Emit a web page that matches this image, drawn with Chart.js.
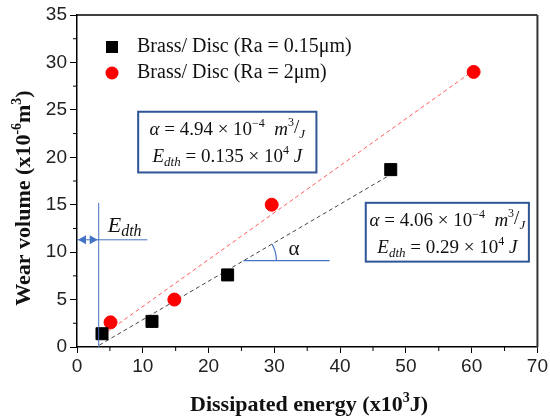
<!DOCTYPE html>
<html>
<head>
<meta charset="utf-8">
<script src="https://cdn.jsdelivr.net/npm/chart.js@4.4.1/dist/chart.umd.min.js"></script>
<style>
  html, body { margin: 0; padding: 0; background: #fff; }
  #wrap { width: 550px; height: 419px; }
</style>
</head>
<body>
<div id="wrap"><canvas id="chart"></canvas></div>
<script>
// measured points (x = dissipated energy x10^3 J, y = wear volume x10^-6 m^3)
const smoothEnergy = [3.8, 11.4, 22.9, 47.7];
const smoothWear = [1.4, 2.7, 7.6, 18.7];
const roughEnergy = [5.1, 14.8, 29.6, 60.3];
const roughWear = [2.6, 5.0, 15.0, 29.0];

// fitted lines, end points
const smoothFitX = [3.4, 47.5];
const smoothFitY = [0.2, 18.1];
const roughFitX = [4.6, 60.0];
const roughFitY = [1.6, 29.0];

const seriesLabels = ["Brass/ Disc (Ra = 0.15\u03bcm)", "Brass/ Disc (Ra = 2\u03bcm)"];
const xTicks = [0, 10, 20, 30, 40, 50, 60, 70];
const yTicks = [0, 5, 10, 15, 20, 25, 30, 35];

// annotation anchors in data units
const edthLineX = 3.3, edthLineTop = 15.2, edthArrowY = 11.3, edthLabelEnd = 10.7;
const alphaStart = [25.3, 9.1], alphaEnd = 38.4;

const toPts = (xs, ys) => xs.map((x, i) => ({x: x, y: ys[i]}));

const blue = '#4472c4';
const boxBlue = '#2f5597';

function richText(ctx, x, y, segs, align) {
  let total = 0;
  segs.forEach(s => { ctx.font = s.f; total += ctx.measureText(s.t).width; });
  let cx = align === 'center' ? x - total / 2 : x;
  ctx.textAlign = 'left';
  ctx.textBaseline = 'alphabetic';
  segs.forEach(s => {
    ctx.font = s.f;
    ctx.fillText(s.t, cx, y + (s.dy || 0));
    cx += ctx.measureText(s.t).width;
  });
}

const R = '19px "Liberation Serif"', I = 'italic 19px "Liberation Serif"';
const Rs = '12px "Liberation Serif"', Is = 'italic 13px "Liberation Serif"';

function boxLines(a, e) {
  return [
    [{t: '\u03b1', f: I}, {t: ' = ' + a + ' \u00d7 10', f: R}, {t: '\u22124', f: Rs, dy: -8},
     {t: '  m', f: I}, {t: '3', f: Rs, dy: -9}, {t: '/', f: R, dy: -2}, {t: 'J', f: Is, dy: 3}],
    [{t: 'E', f: I}, {t: 'dth', f: Is, dy: 4}, {t: ' = ' + e + ' \u00d7 10', f: R},
     {t: '4', f: Rs, dy: -8}, {t: ' J', f: I}]
  ];
}

const decor = {
  id: 'decor',
  afterDraw(chart) {
    const ctx = chart.ctx, a = chart.chartArea;
    const xs = chart.scales.x, ys = chart.scales.y;
    ctx.save();

    // frame top/right
    ctx.strokeStyle = '#000';
    ctx.lineWidth = 1.5;
    ctx.beginPath();
    ctx.moveTo(a.left, a.top); ctx.lineTo(a.right, a.top);
    ctx.stroke();
    ctx.strokeStyle = '#333';
    ctx.lineWidth = 2;
    ctx.beginPath();
    ctx.moveTo(a.right, a.top); ctx.lineTo(a.right, a.bottom);
    ctx.stroke();

    // minor ticks
    ctx.strokeStyle = '#000';
    ctx.lineWidth = 1;
    for (let i = 0; i < xTicks.length - 1; i++) {
      const px = xs.getPixelForValue((xTicks[i] + xTicks[i + 1]) / 2);
      ctx.beginPath(); ctx.moveTo(px, a.bottom); ctx.lineTo(px, a.bottom + 4); ctx.stroke();
    }
    for (let i = 0; i < yTicks.length - 1; i++) {
      const py = ys.getPixelForValue((yTicks[i] + yTicks[i + 1]) / 2);
      ctx.beginPath(); ctx.moveTo(a.left, py); ctx.lineTo(a.left - 4, py); ctx.stroke();
    }

    // legend
    const meta0 = chart.data.datasets[0], meta1 = chart.data.datasets[1];
    ctx.fillStyle = meta0.backgroundColor;
    ctx.fillRect(106, 41, 12, 12);
    ctx.fillStyle = meta1.backgroundColor;
    ctx.beginPath(); ctx.arc(112, 73, 6.5, 0, Math.PI * 2); ctx.fill();
    ctx.fillStyle = '#111';
    ctx.font = '20px "Liberation Serif"';
    ctx.textBaseline = 'middle';
    ctx.fillText(seriesLabels[0], 137, 47);
    ctx.fillText(seriesLabels[1], 137, 73);

    // E_dth construction lines
    ctx.strokeStyle = blue;
    ctx.fillStyle = blue;
    ctx.lineWidth = 1;
    const vx = xs.getPixelForValue(edthLineX);
    const ay = ys.getPixelForValue(edthArrowY);
    ctx.beginPath();
    ctx.moveTo(vx, a.bottom); ctx.lineTo(vx, ys.getPixelForValue(edthLineTop));
    ctx.moveTo(a.left, ay); ctx.lineTo(xs.getPixelForValue(edthLabelEnd), ay);
    ctx.stroke();
    ctx.beginPath();
    ctx.moveTo(a.left + 1, ay); ctx.lineTo(a.left + 9, ay - 4.5); ctx.lineTo(a.left + 9, ay + 4.5); ctx.closePath();
    ctx.moveTo(vx - 1, ay); ctx.lineTo(vx - 9, ay - 4.5); ctx.lineTo(vx - 9, ay + 4.5); ctx.closePath();
    ctx.fill();
    ctx.fillStyle = '#111';
    richText(ctx, vx + 9, ay - 8, [{t: 'E', f: 'italic 22px "Liberation Serif"'}, {t: 'dth', f: 'italic 16px "Liberation Serif"', dy: 4}]);

    // alpha angle
    const ax0 = xs.getPixelForValue(alphaStart[0]), ay0 = ys.getPixelForValue(alphaStart[1]);
    ctx.strokeStyle = blue;
    ctx.lineWidth = 1.2;
    ctx.beginPath();
    ctx.moveTo(ax0, ay0); ctx.lineTo(xs.getPixelForValue(alphaEnd), ay0);
    ctx.stroke();
    const ang = Math.atan2(
      ys.getPixelForValue(smoothFitY[1]) - ys.getPixelForValue(smoothFitY[0]),
      xs.getPixelForValue(smoothFitX[1]) - xs.getPixelForValue(smoothFitX[0]));
    ctx.beginPath();
    ctx.arc(ax0, ay0, 33, ang, 0);
    ctx.stroke();
    ctx.fillStyle = '#111';
    ctx.font = '21px "Liberation Serif"';
    ctx.textBaseline = 'middle';
    ctx.fillText('\u03b1', ax0 + 45, ay0 - 11);

    // parameter boxes
    const boxes = [
      {x0: 9.3, x1: 36.4, y0: 24.8, y1: 18.4, lines: boxLines('4.94', '0.135')},
      {x0: 43.9, x1: 68.7, y0: 15.2, y1: 9.0, lines: boxLines('4.06', '0.29')}
    ];
    boxes.forEach(b => {
      const l = xs.getPixelForValue(b.x0), r = xs.getPixelForValue(b.x1);
      const t = ys.getPixelForValue(b.y0), btm = ys.getPixelForValue(b.y1);
      ctx.fillStyle = '#fff';
      ctx.fillRect(l, t, r - l, btm - t);
      ctx.strokeStyle = boxBlue;
      ctx.lineWidth = 2;
      ctx.strokeRect(l, t, r - l, btm - t);
      ctx.fillStyle = '#111';
      const cx = (l + r) / 2;
      richText(ctx, cx, t + 23, b.lines[0], 'center');
      richText(ctx, cx, t + 50, b.lines[1], 'center');
    });

    // axis titles
    ctx.fillStyle = '#111';
    const B = 'bold 22px "Liberation Serif"', Bs = 'bold 14px "Liberation Serif"';
    richText(ctx, 309, 411,
      [{t: 'Dissipated energy (x10', f: B}, {t: '3', f: Bs, dy: -9}, {t: 'J)', f: B}], 'center');
    ctx.translate(30, 198);
    ctx.rotate(-Math.PI / 2);
    richText(ctx, 0, 0,
      [{t: 'Wear volume (x10', f: B}, {t: '-6', f: Bs, dy: -9}, {t: 'm', f: B}, {t: '3', f: Bs, dy: -9}, {t: ')', f: B}], 'center');
    ctx.restore();
  }
};

new Chart(document.getElementById('chart'), {
  type: 'scatter',
  data: {
    datasets: [
      {
        label: seriesLabels[0],
        data: toPts(smoothEnergy, smoothWear),
        backgroundColor: '#000',
        borderColor: '#000',
        pointStyle: 'rect',
        pointRadius: 8.5,
        pointHoverRadius: 8.5,
        order: 1
      }, {
        label: seriesLabels[1],
        data: toPts(roughEnergy, roughWear),
        backgroundColor: '#ff0000',
        borderColor: '#ff0000',
        pointStyle: 'circle',
        pointRadius: 6.5,
        pointHoverRadius: 6.5,
        order: 1
      }, {
        type: 'line',
        data: toPts(smoothFitX, smoothFitY),
        borderColor: '#444',
        borderWidth: 1,
        borderDash: [4, 3],
        pointRadius: 0,
        fill: false,
        order: 2
      }, {
        type: 'line',
        data: toPts(roughFitX, roughFitY),
        borderColor: '#ff5a5a',
        borderWidth: 1,
        borderDash: [4, 3],
        pointRadius: 0,
        fill: false,
        order: 2
      }
    ]
  },
  options: {
    responsive: true,
    maintainAspectRatio: false,
    animation: false,
    layout: { padding: { top: 15, right: 9, left: 0, bottom: 0 } },
    plugins: { legend: { display: false }, tooltip: { enabled: false } },
    scales: {
      x: {
        type: 'linear', min: 0, max: 70,
        afterFit: s => { s.height = 72; },
        afterBuildTicks: s => { s.ticks = xTicks.map(v => ({value: v})); },
        ticks: { color: '#222', font: { family: 'Liberation Sans', size: 19 }, padding: 2, maxRotation: 0 },
        grid: { drawOnChartArea: false, drawTicks: true, tickLength: 6, color: '#000', lineWidth: 1 },
        border: { color: '#000', width: 1.5 }
      },
      y: {
        type: 'linear', min: 0, max: 35,
        afterFit: s => { s.width = 77; },
        afterBuildTicks: s => { s.ticks = yTicks.map(v => ({value: v})); },
        ticks: { color: '#222', font: { family: 'Liberation Sans', size: 19 }, padding: 3 },
        grid: { drawOnChartArea: false, drawTicks: true, tickLength: 7, color: '#000', lineWidth: 1 },
        border: { color: '#000', width: 1.5 }
      }
    }
  },
  plugins: [decor]
});
</script>
</body>
</html>
